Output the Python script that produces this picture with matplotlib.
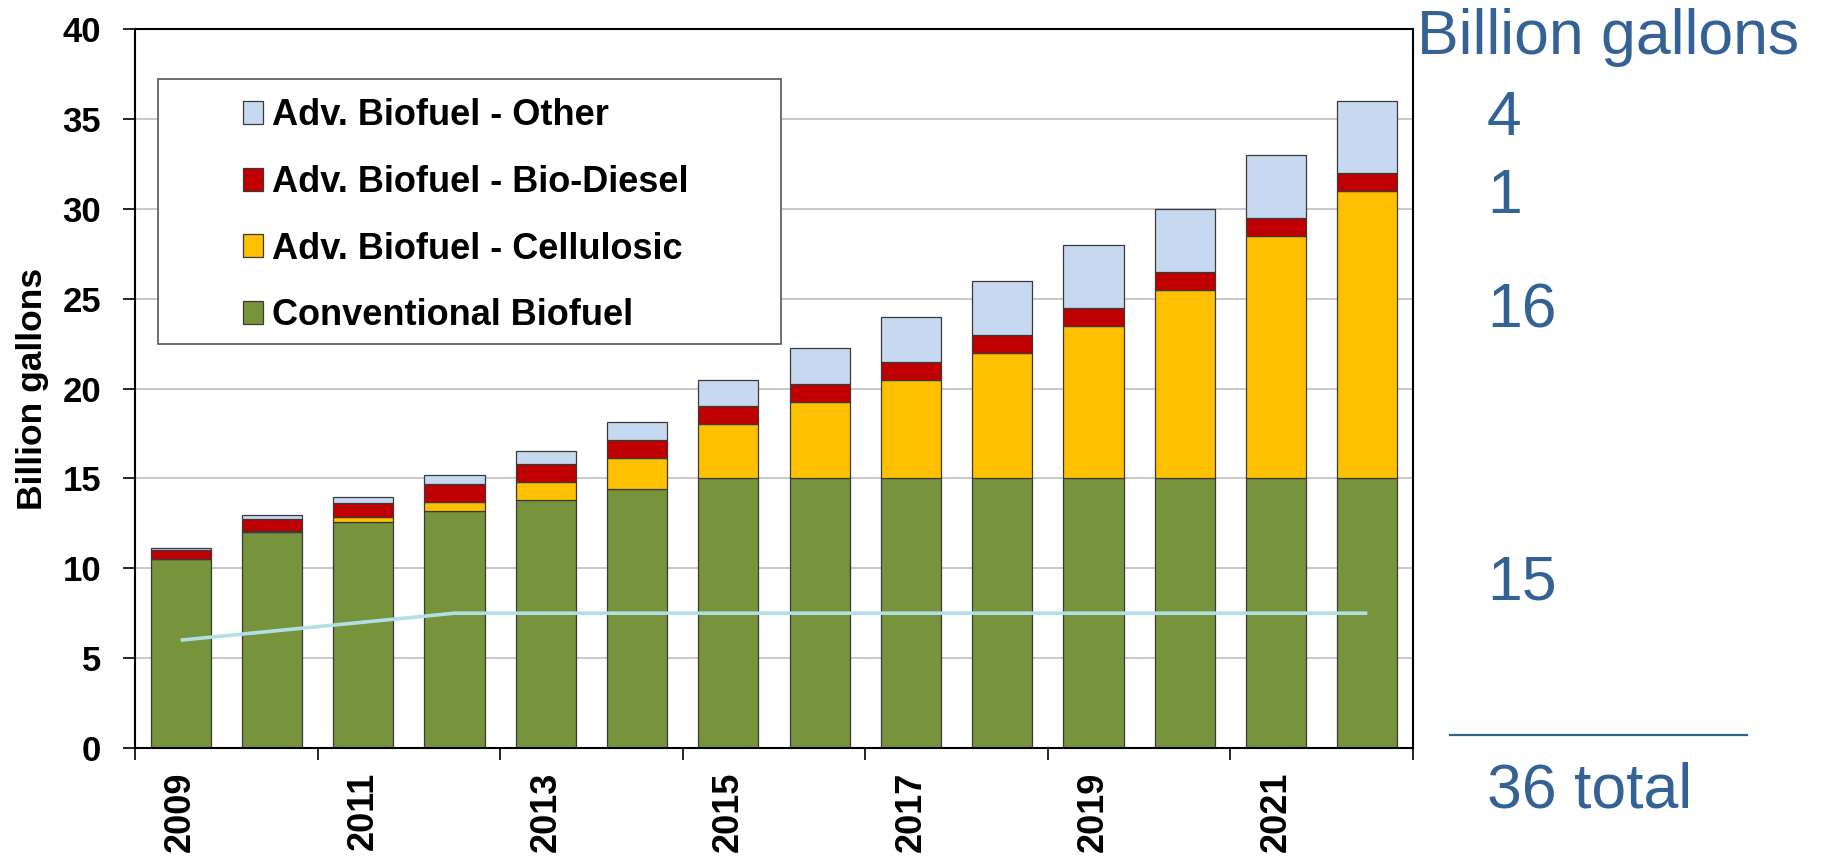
import numpy as np
import matplotlib
matplotlib.use('Agg')
import matplotlib.pyplot as plt
from matplotlib.patches import Patch, Rectangle
from matplotlib.lines import Line2D

plt.rcParams['font.family'] = ['Liberation Sans', 'DejaVu Sans']

# RFS volumes, billion gallons
years = np.arange(2009, 2023)
conventional = [10.5, 12.0, 12.6, 13.2, 13.8, 14.4, 15.0, 15.0, 15.0, 15.0, 15.0, 15.0, 15.0, 15.0]
cellulosic = [0.0, 0.1, 0.25, 0.5, 1.0, 1.75, 3.0, 4.25, 5.5, 7.0, 8.5, 10.5, 13.5, 16.0]
biodiesel = [0.5, 0.65, 0.8, 1.0, 1.0, 1.0, 1.0, 1.0, 1.0, 1.0, 1.0, 1.0, 1.0, 1.0]
other = [0.1, 0.2, 0.3, 0.5, 0.75, 1.0, 1.5, 2.0, 2.5, 3.0, 3.5, 3.5, 3.5, 4.0]
rfs1_line = [6.0, 6.5, 7.0, 7.5, 7.5, 7.5, 7.5, 7.5, 7.5, 7.5, 7.5, 7.5, 7.5, 7.5]

labels = ['Conventional Biofuel', 'Adv. Biofuel - Cellulosic',
          'Adv. Biofuel - Bio-Diesel', 'Adv. Biofuel - Other']
colors = ['#77933C', '#FFC000', '#C00000', '#C6D9F1']
side_labels = ['4', '1', '16', '15']

W, H = 1827, 856
fig = plt.figure(figsize=(W / 100, H / 100), dpi=100)
ax = fig.add_axes([135 / W, 1 - 748 / H, (1413 - 135) / W, (748 - 29) / H])

x = np.arange(len(years))
bottom = np.zeros(len(years))
for vals, c in zip([conventional, cellulosic, biodiesel, other], colors):
    ax.bar(x, vals, 0.66, bottom=bottom, color=c, edgecolor='#3a3a3a', linewidth=0.9, zorder=2)
    bottom += np.array(vals)

ax.plot(x, rfs1_line, color='#B2DFE6', lw=2.6, zorder=3, solid_capstyle='butt')

ax.set_xlim(-0.5, len(years) - 0.5)
ax.set_ylim(0, 40)
ax.set_yticks(np.arange(0, 41, 5))
ax.grid(axis='y', color='#BFBFBF', lw=1.2, zorder=0)
ax.set_axisbelow(True)

ax.set_xticks(np.arange(-0.5, len(years), 2))
ax.set_xticklabels([])
ax.set_xticks(x[::2], minor=True)
ax.set_xticklabels([str(y) for y in years[::2]], minor=True, rotation=90,
                   fontsize=26, fontweight='bold')
ax.tick_params(axis='x', which='major', length=8.5, width=1.2, direction='out')
ax.tick_params(axis='x', which='minor', length=0, pad=17)
ax.tick_params(axis='y', length=8.5, width=1.2, direction='out', pad=16, labelsize=25)
for t in ax.get_yticklabels():
    t.set_fontweight('bold')

for s in ax.spines.values():
    s.set_color('black')
    s.set_linewidth(1.5)

fig.text(33 / W, 1 - 389 / H, 'Billion gallons', rotation=90, ha='center', va='center',
         fontsize=25.5, fontweight='bold')

# legend box
fig.patches.append(Rectangle((158 / W, 1 - 344 / H), (781 - 158) / W, (344 - 79) / H,
                             transform=fig.transFigure, facecolor='white',
                             edgecolor='#555555', lw=1.2, zorder=1))
handles = [Patch(facecolor=c, edgecolor='#3a3a3a', lw=0.9) for c in colors]
fig.legend(handles[::-1], labels[::-1], loc='upper left',
           bbox_to_anchor=(243 / W, 1 - 98 / H), bbox_transform=fig.transFigure,
           frameon=False, borderpad=0, borderaxespad=0,
           handlelength=0.55, handleheight=0.6, handletextpad=0.25,
           labelspacing=0.88, prop={'weight': 'bold', 'size': 26})

# right-side summary
blue = '#356295'
fig.text(1417 / W, 1 - 54 / H, 'Billion gallons', fontsize=45, color=blue, va='baseline')
for lab, yb in zip(side_labels, [135, 213, 327, 599]):
    fig.text(1487 / W, 1 - yb / H, lab, fontsize=45, color=blue, va='baseline')
fig.add_artist(Line2D([1450 / W, 1747 / W], [1 - 735 / H, 1 - 735 / H], color=blue, lw=1.6))
fig.text(1487 / W, 1 - 808 / H, '36 total', fontsize=45, color=blue, va='baseline')

fig.savefig('out.png', dpi=100)
